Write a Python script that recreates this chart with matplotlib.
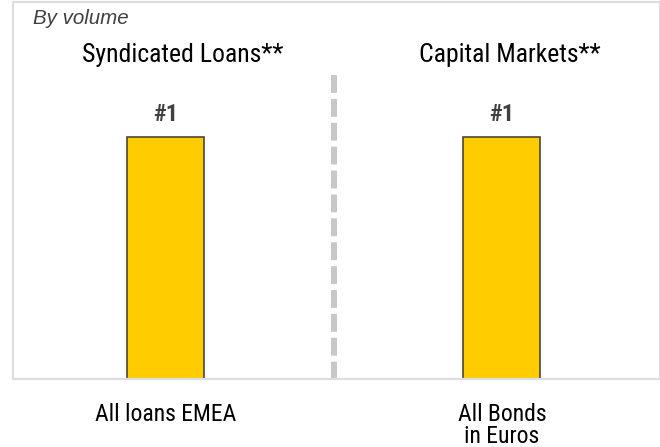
import matplotlib
matplotlib.use("Agg")
import matplotlib.pyplot as plt
from matplotlib import font_manager

# data
groups = ["Syndicated Loans**", "Capital Markets**"]
categories = ["All loans EMEA", "All Bonds\nin Euros"]
ranks = ["#1", "#1"]
heights = [1, 1]

# narrow font (Arial Narrow look-alike)
names = {f.name for f in font_manager.fontManager.ttflist}
narrow = "Liberation Sans"
for cand in ["Liberation Sans Narrow", "Roboto Condensed", "PT Sans Narrow", "Archivo Narrow"]:
    if cand in names:
        narrow = cand
        break
plt.rcParams["font.family"] = [narrow, "DejaVu Sans"]

fig = plt.figure(figsize=(6.6, 4.47), dpi=100)
ax = fig.add_axes([13 / 660, 1 - 379 / 447, 647 / 660, 377 / 447])

x = list(range(len(categories)))
ax.bar(x, heights, width=0.2285, color="#FFCC00", edgecolor="#4a4535", linewidth=1.2, zorder=2)
ax.set_xlim(-0.4525, 1.47)
ax.set_ylim(0, 1.558)

# rank labels
for xi, h, r in zip(x, heights, ranks):
    ax.text(xi, h + 0.066, r, ha="center", va="baseline", fontsize=17.5, fontweight="bold", color="#404040")

# group titles
title_dx = [0.053, 0.025]
for xi, dx, g in zip(x, title_dx, groups):
    ax.text(xi + dx, 1.31, g, ha="center", va="baseline", fontsize=18.5, color="black")

# dashed divider, drawn from the top down
ax.plot([0.5, 0.5], [1.256, 0], color="#c8c8c8", linewidth=4.3, dashes=(3, 1), zorder=1)

ax.set_xticks(x)
ax.set_xticklabels(categories, fontsize=17, va="top", linespacing=0.95)
ax.tick_params(axis="x", length=0, pad=17)
ax.set_yticks([])

for s in ["left", "bottom", "top", "right"]:
    ax.spines[s].set_color("#dedede")
    ax.spines[s].set_linewidth(1.6)

fig.text(33 / 660, 1 - 24 / 447, "By volume", fontsize=14.8, style="italic", color="#404040",
         va="baseline", ha="left", family="Liberation Sans")

fig.savefig("out.png", dpi=100)
